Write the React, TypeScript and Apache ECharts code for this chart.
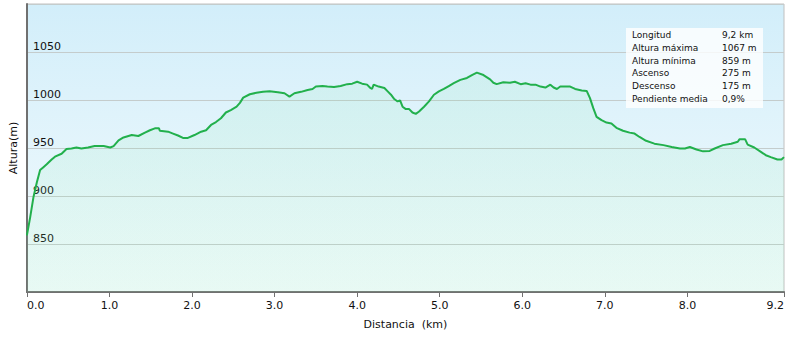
import React, { useEffect, useRef } from "react";
import * as echarts from "echarts";

const distances = [
  0.0, 0.04, 0.08, 0.12, 0.16, 0.2, 0.24, 0.3, 0.34, 0.42, 0.48, 0.54, 0.6, 0.66, 0.74, 0.82, 0.93, 1.01, 1.05, 1.11,
  1.17, 1.27, 1.35, 1.43, 1.49, 1.55, 1.6, 1.61, 1.71, 1.77, 1.83, 1.89, 1.95, 2.03, 2.11, 2.17, 2.23, 2.29, 2.35, 2.41,
  2.47, 2.54, 2.58, 2.62, 2.7, 2.78, 2.86, 2.94, 3.04, 3.12, 3.18, 3.24, 3.32, 3.4, 3.46, 3.5, 3.58, 3.64, 3.72, 3.8,
  3.88, 3.94, 4.0, 4.06, 4.12, 4.16, 4.18, 4.2, 4.26, 4.33, 4.37, 4.41, 4.45, 4.49, 4.52, 4.55, 4.59, 4.63, 4.67, 4.71,
  4.75, 4.81, 4.87, 4.93, 4.99, 5.05, 5.11, 5.17, 5.25, 5.33, 5.39, 5.45, 5.53, 5.61, 5.65, 5.69, 5.77, 5.85, 5.91, 5.98,
  6.04, 6.1, 6.16, 6.22, 6.28, 6.34, 6.38, 6.42, 6.46, 6.58, 6.64, 6.72, 6.78, 6.82, 6.86, 6.9, 6.96, 7.02, 7.08, 7.14,
  7.22, 7.3, 7.36, 7.42, 7.5, 7.6, 7.71, 7.81, 7.91, 7.97, 8.03, 8.11, 8.19, 8.27, 8.33, 8.43, 8.53, 8.61, 8.63, 8.7,
  8.73, 8.81, 8.89, 8.95, 9.01, 9.09, 9.14, 9.17,
];

const elevations = [
  859, 878, 899, 914, 927, 930, 933, 938, 941, 944, 949, 949.5, 950.5, 949.5, 950.5, 952, 952, 950.5, 952, 958,
  961, 963.5, 962.5, 966, 968.5, 970.5, 970.5, 968, 967, 965, 963, 960.5, 960.5, 963.5, 967, 968.5, 974, 977, 981, 987,
  989.5, 993, 997, 1002.5, 1006, 1007.5, 1008.5, 1009, 1008, 1007, 1003.5, 1007, 1008.5, 1010.5, 1011.5, 1014, 1014.5, 1014, 1013.5, 1014.5,
  1016.5, 1017, 1019, 1017, 1016, 1012.5, 1011.5, 1016, 1014, 1012.5, 1009, 1005.5, 1001, 998.5, 999.5, 993, 990.5, 990.5, 987, 985.5,
  988, 993, 998.5, 1005.5, 1009, 1011.5, 1014.5, 1017.5, 1021, 1023, 1026, 1028.5, 1026, 1021.5, 1018, 1016.5, 1018.5, 1018, 1019, 1016.5,
  1017.5, 1016, 1016, 1014, 1013, 1016, 1013, 1011.5, 1014, 1014, 1011.5, 1010, 1009.5, 1002, 991.5, 982.5, 979, 976.5, 975.5, 971,
  968, 966, 965, 961.5, 957.5, 954.5, 953, 951, 949.5, 949.5, 951, 948.5, 946.5, 947, 949.5, 953, 954.5, 956.5, 959, 959,
  953.5, 950.5, 946, 942.5, 940.5, 938, 938, 940.5,
];

const xTickValues = [0, 1, 2, 3, 4, 5, 6, 7, 8, 9.17];

const statLabels = ["Longitud", "Altura máxima", "Altura mínima", "Ascenso", "Descenso", "Pendiente media"];
const statValues = ["9,2 km", "1067 m", "859 m", "275 m", "175 m", "0,9%"];

const FONT = "DejaVu Sans";

export default function App() {
  const ref = useRef<HTMLDivElement>(null);

  useEffect(() => {
    if (!ref.current) return;
    const chart = echarts.init(ref.current, undefined, { renderer: "svg" });
    const data = distances.map((d, i) => [d, elevations[i]]);

    const statGraphics: any[] = [];
    statLabels.forEach((label, i) => {
      const y = 35 + i * 12.75;
      statGraphics.push({
        type: "text",
        x: 632,
        y,
        z: 110,
        style: { text: label, font: `9px "${FONT}"`, fill: "#111111", opacity: 1, textVerticalAlign: "middle" },
      });
      statGraphics.push({
        type: "text",
        x: 722,
        y,
        z: 110,
        style: { text: statValues[i], font: `9px "${FONT}"`, fill: "#111111", opacity: 1, textVerticalAlign: "middle" },
      });
    });

    chart.setOption({
      animation: false,
      backgroundColor: "#ffffff",
      textStyle: { fontFamily: FONT },
      grid: {
        left: 25,
        right: 2,
        top: 4,
        bottom: 45,
        show: true,
        borderColor: "#c0c0c0",
        borderWidth: 1,
        backgroundColor: new echarts.graphic.LinearGradient(0, 0, 0, 1, [
          { offset: 0, color: "#d2eefa" },
          { offset: 1, color: "#f4fbfd" },
        ]),
      },
      xAxis: {
        type: "value",
        min: 0,
        max: 9.17,
        name: "Distancia  (km)",
        nameLocation: "middle",
        nameGap: 27,
        nameTextStyle: { fontSize: 11, color: "#111", fontFamily: FONT },
        axisLine: { show: true, lineStyle: { color: "#707070", width: 2 } },
        axisTick: { show: true, length: 5, lineStyle: { color: "#707070", width: 1 }, customValues: xTickValues },
        axisLabel: {
          fontSize: 11,
          color: "#111",
          margin: 8,
          fontFamily: FONT,
          customValues: xTickValues,
          formatter: (v: number) => v.toFixed(1),
          alignMinLabel: "left",
          alignMaxLabel: "right",
        },
        splitLine: { show: false },
      },
      yAxis: {
        type: "value",
        min: 800,
        max: 1100,
        interval: 50,
        name: "Altura(m)",
        nameLocation: "middle",
        nameGap: 4,
        nameTextStyle: { fontSize: 11, color: "#111", fontFamily: FONT },
        axisLine: { show: true, lineStyle: { color: "#707070", width: 2 } },
        axisTick: { show: false },
        axisLabel: {
          inside: true,
          margin: 6,
          fontSize: 11,
          color: "#111",
          fontFamily: FONT,
          verticalAlign: "bottom",
          showMinLabel: false,
          showMaxLabel: false,
          formatter: (v: number) => String(v),
        },
        splitLine: { show: true, lineStyle: { color: "#c4cccc", width: 1 } },
      },
      series: [
        {
          type: "line",
          data,
          symbol: "none",
          smooth: false,
          lineStyle: { color: "#22b04c", width: 2 },
          itemStyle: { color: "#22b04c" },
          areaStyle: {
            color: new echarts.graphic.LinearGradient(0, 0, 0, 1, [
              { offset: 0, color: "rgba(110,225,150,0.14)" },
              { offset: 1, color: "rgba(150,240,180,0.18)" },
            ]),
          },
        },
      ],
      graphic: [
        {
          type: "group",
          z: 100,
          children: [
            {
              type: "rect",
              z: 100,
              shape: { x: 626, y: 28, width: 137, height: 80 },
              style: { fill: "rgba(255,255,255,0.8)" },
            },
            ...statGraphics,
          ],
        },
      ],
    });

    return () => chart.dispose();
  }, []);

  return <div ref={ref} style={{ position: "fixed", left: 0, top: 0, width: 787, height: 337 }} />;
}
